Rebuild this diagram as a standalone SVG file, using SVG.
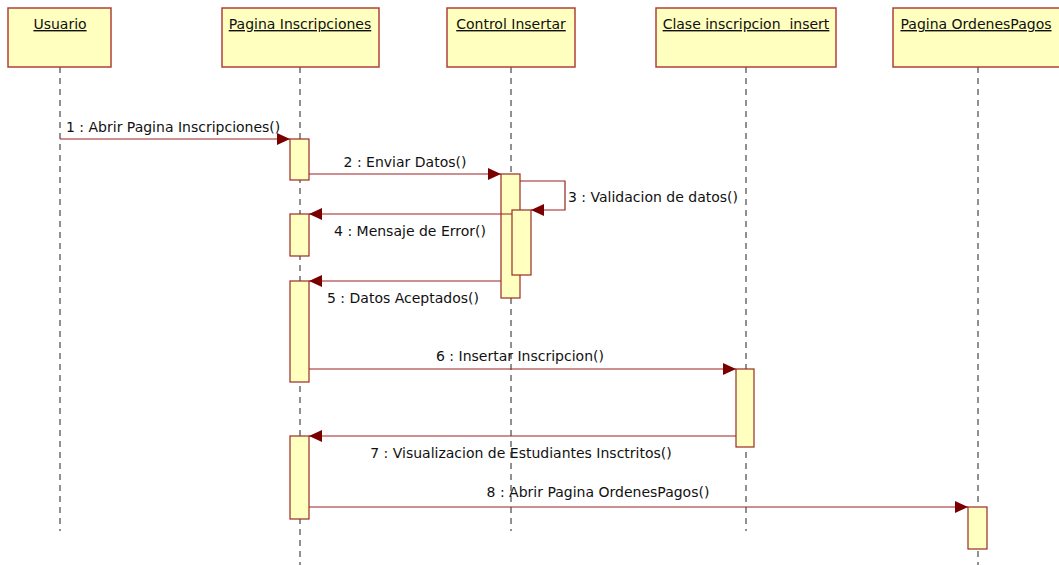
<svg xmlns="http://www.w3.org/2000/svg" width="1059" height="565" viewBox="0 0 1059 565">
<style>
.box{fill:#FFFFC0;stroke:#B0403A;stroke-width:1.5}
.act{fill:#FFFFC0;stroke:#9B2A24;stroke-width:1.2}
.life{stroke:#222;stroke-width:1;stroke-dasharray:6 5;fill:none}
.msg{stroke:#9B2020;stroke-width:1.2;fill:none}
.hd{font-family:"DejaVu Sans",sans-serif;font-size:14px;fill:#111;text-anchor:middle;text-decoration:underline}
.lb{font-family:"DejaVu Sans",sans-serif;font-size:14px;fill:#111}
</style>
<defs>
<marker id="ah" markerWidth="14" markerHeight="12" refX="13" refY="6" orient="auto" markerUnits="userSpaceOnUse">
<path d="M0,0 L13,6 L0,12 Z" fill="#7A0000"/>
</marker>
</defs>
<rect width="1059" height="565" fill="#fff"/>
<g id="lifelines">
<line class="life" x1="60" y1="67" x2="60" y2="531"/>
<line class="life" x1="300" y1="67" x2="300" y2="565"/>
<line class="life" x1="511" y1="67" x2="511" y2="531"/>
<line class="life" x1="746" y1="67" x2="746" y2="531"/>
<line class="life" x1="978" y1="67" x2="978" y2="565"/>
</g>
<g id="n-usuario"><rect class="box" x="8" y="8" width="103" height="59"/><text class="hd" x="60" y="29">Usuario</text></g>
<g id="n-pagina-inscripciones"><rect class="box" x="222" y="8" width="157" height="59"/><text class="hd" x="300" y="29">Pagina Inscripciones</text></g>
<g id="n-control-insertar"><rect class="box" x="447" y="8" width="128" height="59"/><text class="hd" x="511" y="29">Control Insertar</text></g>
<g id="n-clase-inscripcion"><rect class="box" x="656" y="8" width="180" height="59"/><text class="hd" x="746" y="29" xml:space="preserve">Clase inscripcion  insert</text></g>
<g id="n-pagina-ordenes"><rect class="box" x="893" y="8" width="170" height="59"/><text class="hd" x="976" y="29">Pagina OrdenesPagos</text></g>
<g id="activations">
<rect class="act" x="290" y="139" width="19" height="41"/>
<rect class="act" x="290" y="214" width="19" height="42"/>
<rect class="act" x="290" y="281" width="19" height="101"/>
<rect class="act" x="290" y="436" width="19" height="83"/>
<rect class="act" x="501" y="174" width="19" height="124"/>
<rect class="act" x="512" y="210" width="19" height="65"/>
<rect class="act" x="736" y="369" width="18" height="78"/>
<rect class="act" x="968" y="507" width="19" height="42"/>
</g>
<g id="connectors">
<line class="msg" x1="60" y1="139" x2="290" y2="139" marker-end="url(#ah)"/>
<line class="msg" x1="309" y1="174" x2="501" y2="174" marker-end="url(#ah)"/>
<polyline class="msg" points="520,181 565,181 565,210 531,210" marker-end="url(#ah)"/>
<line class="msg" x1="512" y1="214" x2="309" y2="214" marker-end="url(#ah)"/>
<line class="msg" x1="501" y1="281" x2="309" y2="281" marker-end="url(#ah)"/>
<line class="msg" x1="309" y1="369" x2="736" y2="369" marker-end="url(#ah)"/>
<line class="msg" x1="736" y1="436" x2="309" y2="436" marker-end="url(#ah)"/>
<line class="msg" x1="309" y1="507" x2="968" y2="507" marker-end="url(#ah)"/>
</g>
<g id="labels">
<text class="lb" x="66" y="132">1 : Abrir Pagina Inscripciones()</text>
<text class="lb" x="405" y="167" text-anchor="middle">2 : Enviar Datos()</text>
<text class="lb" x="568" y="202">3 : Validacion de datos()</text>
<text class="lb" x="410" y="236" text-anchor="middle">4 : Mensaje de Error()</text>
<text class="lb" x="403" y="303" text-anchor="middle">5 : Datos Aceptados()</text>
<text class="lb" x="520" y="361" text-anchor="middle">6 : Insertar Inscripcion()</text>
<text class="lb" x="521" y="458" text-anchor="middle">7 : Visualizacion de Estudiantes Insctritos()</text>
<text class="lb" x="598" y="497" text-anchor="middle">8 : Abrir Pagina OrdenesPagos()</text>
</g>
</svg>
